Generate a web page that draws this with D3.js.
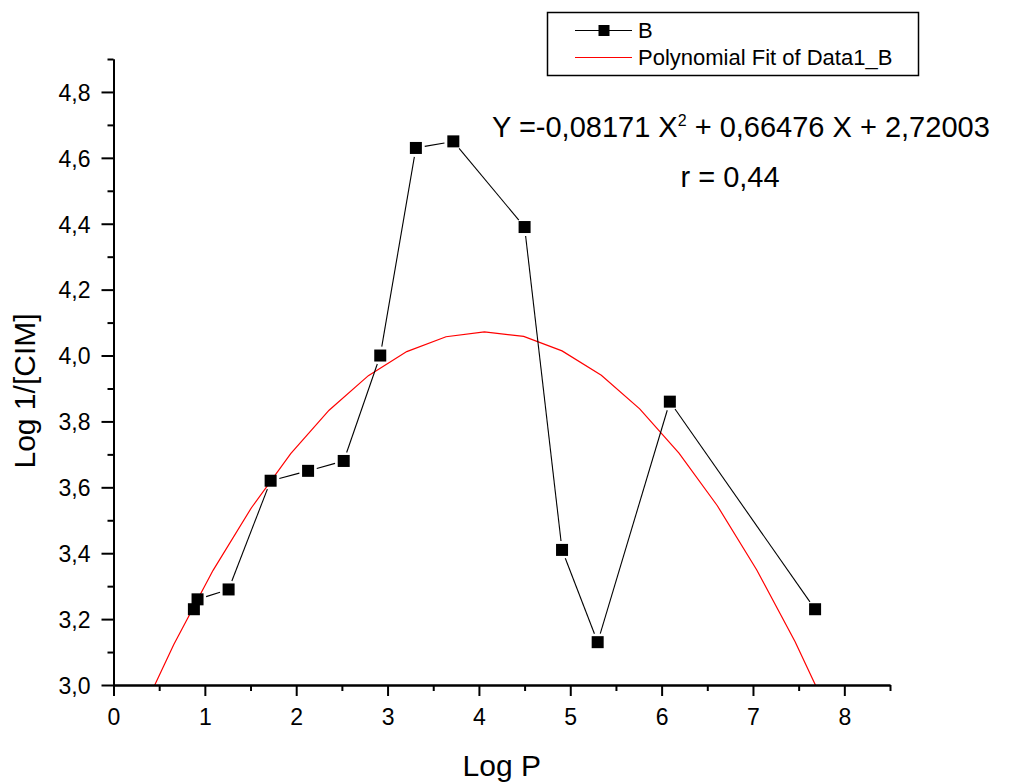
<!DOCTYPE html>
<html>
<head>
<meta charset="utf-8">
<script src="https://cdn.jsdelivr.net/npm/d3@7"></script>
<style>
  html, body { margin: 0; padding: 0; background: #fff; }
  svg { display: block; font-family: "Liberation Sans", Arial, sans-serif; }
</style>
</head>
<body>
<svg id="chart" width="1027" height="782"></svg>
<script>
// ---- data ----
const logP      = [0.88, 0.92, 1.26, 1.72, 2.13, 2.52, 2.92, 3.31, 3.72, 4.50, 4.91, 5.30, 6.09, 7.68];
const logInvCIM = [3.23, 3.26, 3.29, 3.62, 3.65, 3.68, 4.00, 4.63, 4.65, 4.39, 3.41, 3.13, 3.86, 3.23];

const fitX = [0.24, 0.66, 1.09, 1.51, 1.94, 2.36, 2.79, 3.21, 3.64, 4.06, 4.49, 4.91, 5.34, 5.76, 6.19, 6.61, 7.04, 7.46, 7.89];
const fitY = [2.875, 3.123, 3.348, 3.538, 3.702, 3.834, 3.939, 4.012, 4.057, 4.072, 4.058, 4.014, 3.940, 3.838, 3.704, 3.544, 3.350, 3.132, 2.878];

const xMajorTicks = [0, 1, 2, 3, 4, 5, 6, 7, 8];
const xMinorTicks = [0.5, 1.5, 2.5, 3.5, 4.5, 5.5, 6.5, 7.5, 8.5];
const yMajorTicks = [3.0, 3.2, 3.4, 3.6, 3.8, 4.0, 4.2, 4.4, 4.6, 4.8];
const yMinorTicks = [3.1, 3.3, 3.5, 3.7, 3.9, 4.1, 4.3, 4.5, 4.7, 4.9];

const legendLabels = ["B", "Polynomial Fit of Data1_B"];
const xTitle = "Log P";
const yTitle = "Log 1/[CIM]";
const eqMain = "Y =-0,08171 X";
const eqSup = "2";
const eqRest = " + 0,66476 X + 2,72003";
const rText = "r = 0,44";

// ---- layout ----
const svg = d3.select("#chart");
const x = d3.scaleLinear().domain([0, 8.5]).range([113.5, 890]);
const y = d3.scaleLinear().domain([3.0, 4.9]).range([685, 59]);
const fmt = d => d3.format(".1f")(d).replace(".", ",");

svg.append("defs").append("clipPath").attr("id", "plotclip")
  .append("rect").attr("x", x(0)).attr("y", y(4.9)).attr("width", x(8.5) - x(0)).attr("height", y(3.0) - y(4.9));

// fit curve
const fitPts = fitX.map((v, i) => [v, fitY[i]]);
svg.append("path")
  .datum(fitPts)
  .attr("clip-path", "url(#plotclip)")
  .attr("fill", "none")
  .attr("stroke", "#ff0000")
  .attr("stroke-width", 1.2)
  .attr("d", d3.line().x(d => x(d[0])).y(d => y(d[1])));

// data line segments (with gaps around markers)
const pts = logP.map((v, i) => [x(v), y(logInvCIM[i])]);
const gap = 9;
const segs = [];
for (let i = 0; i < pts.length - 1; i++) {
  const [x1, y1] = pts[i], [x2, y2] = pts[i + 1];
  const dx = x2 - x1, dy = y2 - y1, L = Math.hypot(dx, dy);
  if (L > 2 * gap) {
    const ux = dx / L, uy = dy / L;
    segs.push([x1 + ux * gap, y1 + uy * gap, x2 - ux * gap, y2 - uy * gap]);
  }
}
svg.append("g").selectAll("line").data(segs).join("line")
  .attr("x1", d => d[0]).attr("y1", d => d[1]).attr("x2", d => d[2]).attr("y2", d => d[3])
  .attr("stroke", "#000").attr("stroke-width", 1.1);

// markers
const ms = 12;
svg.append("g").selectAll("rect").data(logP.map((v, i) => [v, logInvCIM[i]])).join("rect")
  .attr("x", d => x(d[0]) - ms / 2).attr("y", d => y(d[1]) - ms / 2)
  .attr("width", ms).attr("height", ms).attr("fill", "#000");

// axes
function styleAxis(g) {
  g.selectAll("path.domain").attr("stroke", "#000").attr("stroke-width", 2);
  g.selectAll(".tick line").attr("stroke", "#000").attr("stroke-width", 2);
  g.selectAll(".tick text").attr("fill", "#000").attr("font-size", 23)
    .attr("font-family", "'Liberation Sans', Arial, sans-serif");
}
const xAxisMinor = svg.append("g").attr("transform", `translate(0,${y(3.0)})`)
  .call(d3.axisBottom(x).tickValues(xMinorTicks).tickSize(6).tickSizeOuter(0).tickFormat(""));
styleAxis(xAxisMinor);
const xAxis = svg.append("g").attr("transform", `translate(0,${y(3.0)})`)
  .call(d3.axisBottom(x).tickValues(xMajorTicks).tickSize(11).tickPadding(13).tickSizeOuter(0).tickFormat(d3.format("d")));
styleAxis(xAxis);

const yAxisMinor = svg.append("g").attr("transform", `translate(${x(0)},0)`)
  .call(d3.axisLeft(y).tickValues(yMinorTicks).tickSize(6).tickSizeOuter(0).tickFormat(""));
styleAxis(yAxisMinor);
const yAxis = svg.append("g").attr("transform", `translate(${x(0)},0)`)
  .call(d3.axisLeft(y).tickValues(yMajorTicks).tickSize(12).tickPadding(11).tickSizeOuter(0).tickFormat(fmt));
styleAxis(yAxis);
yAxis.selectAll(".tick text").attr("dy", "0.36em");

// axis titles
svg.append("text").attr("x", (x(0) + x(8.5)) / 2).attr("y", 776)
  .attr("text-anchor", "middle").attr("font-size", 30).attr("fill", "#000").text(xTitle);
svg.append("text").attr("transform", "translate(35,391) rotate(-90)")
  .attr("text-anchor", "middle").attr("font-size", 30).attr("fill", "#000").text(yTitle);

// equation
const eq = svg.append("text").attr("x", 492).attr("y", 137).attr("font-size", 29).attr("fill", "#000");
eq.append("tspan").text(eqMain);
eq.append("tspan").attr("font-size", 16).attr("dy", -11).text(eqSup);
eq.append("tspan").attr("dy", 11).text(eqRest);
svg.append("text").attr("x", 730).attr("y", 187).attr("text-anchor", "middle")
  .attr("font-size", 29).attr("fill", "#000").text(rText);

// legend
const lg = svg.append("g");
lg.append("rect").attr("x", 547.5).attr("y", 12.5).attr("width", 371).attr("height", 63)
  .attr("fill", "#fff").attr("stroke", "#000").attr("stroke-width", 1.5);
lg.append("line").attr("x1", 575).attr("x2", 632).attr("y1", 30.5).attr("y2", 30.5)
  .attr("stroke", "#000").attr("stroke-width", 1.1);
lg.append("rect").attr("x", 604 - 5.5).attr("y", 30.5 - 5.5).attr("width", 11).attr("height", 11).attr("fill", "#000");
lg.append("line").attr("x1", 575).attr("x2", 632).attr("y1", 57.5).attr("y2", 57.5)
  .attr("stroke", "#ff0000").attr("stroke-width", 1.1);
lg.selectAll("text").data(legendLabels).join("text")
  .attr("x", 638).attr("y", (d, i) => 38 + i * 27)
  .attr("font-size", 22).attr("fill", "#000").text(d => d);
</script>
</body>
</html>
